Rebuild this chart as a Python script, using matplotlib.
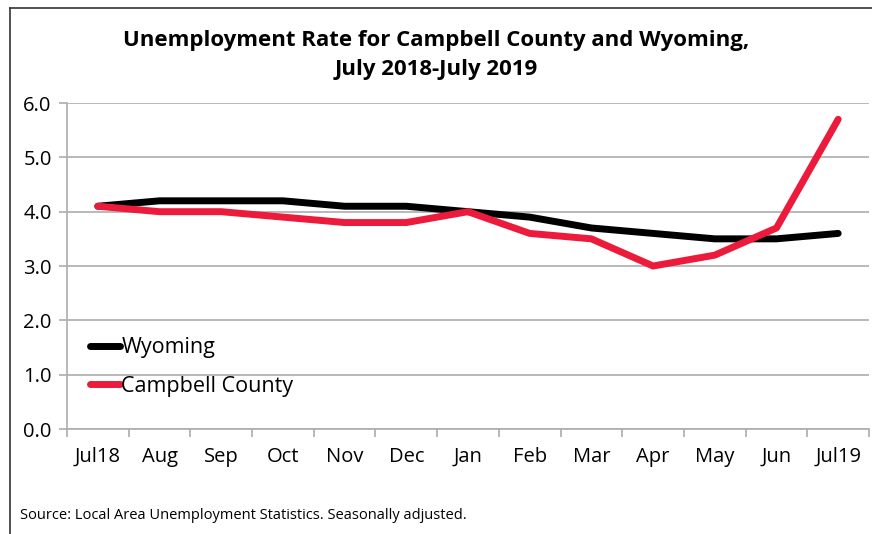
import matplotlib.pyplot as plt
from matplotlib.lines import Line2D

months = ['Jul18', 'Aug', 'Sep', 'Oct', 'Nov', 'Dec', 'Jan',
          'Feb', 'Mar', 'Apr', 'May', 'Jun', 'Jul19']
wyoming = [4.1, 4.2, 4.2, 4.2, 4.1, 4.1, 4.0, 3.9, 3.7, 3.6, 3.5, 3.5, 3.6]
campbell = [4.1, 4.0, 4.0, 3.9, 3.8, 3.8, 4.0, 3.6, 3.5, 3.0, 3.2, 3.7, 5.7]
yticks = [0.0, 1.0, 2.0, 3.0, 4.0, 5.0, 6.0]

plt.rcParams['font.family'] = ['Open Sans', 'DejaVu Sans']
grid_col = '#ADADAD'
red = '#EC1A3B'

fig = plt.figure(figsize=(8.72, 5.34), dpi=100)
ax = fig.add_axes([0.0768, 0.1966, 0.9198, 0.6105])

x = list(range(len(months)))
ax.plot(x, wyoming, color='black', lw=5, solid_capstyle='round', solid_joinstyle='round', zorder=3)
ax.plot(x, campbell, color=red, lw=5, solid_capstyle='round', solid_joinstyle='round', zorder=4)

ax.set_xlim(-0.5, len(months) - 0.5)
ax.set_ylim(0, 6)
ax.set_yticks(yticks)
ax.set_yticklabels([f'{v:.1f}' for v in yticks])
ax.set_xticks(x)
ax.set_xticklabels(months)
ax.set_xticks([i - 0.5 for i in range(len(months) + 1)], minor=True)
ax.tick_params(axis='x', which='major', length=0, pad=13, labelsize=14.5)
ax.tick_params(axis='x', which='minor', length=6, width=1.2, color=grid_col)
ax.tick_params(axis='y', length=6, width=1.2, color=grid_col, pad=5, labelsize=14.5)

ax.grid(axis='y', color=grid_col, lw=1.2)
ax.set_axisbelow(True)
for s in ['top', 'right']:
    ax.spines[s].set_visible(False)
for s in ['left', 'bottom']:
    ax.spines[s].set_color(grid_col)
    ax.spines[s].set_linewidth(1.2)

handles = [Line2D([], [], color='black', lw=5, solid_capstyle='round'),
           Line2D([], [], color=red, lw=5, solid_capstyle='round')]
ax.legend(handles, ['Wyoming', 'Campbell County'], loc='center left',
          bbox_to_anchor=(0.029, 0.19), frameon=False, fontsize=15.5,
          borderpad=0, borderaxespad=0,
          handlelength=1.4, handletextpad=0.05, labelspacing=0.8)

fig.text(0.5, 0.897, 'Unemployment Rate for Campbell County and Wyoming,\nJuly 2018-July 2019',
         ha='center', va='center', fontsize=16, fontweight='bold', linespacing=1.45)
fig.text(0.023, 0.035, 'Source: Local Area Unemployment Statistics. Seasonally adjusted.',
         fontsize=10.5, ha='left', va='center')

# outer frame (left and top edges visible)
fig.add_artist(Line2D([0.0115, 0.0115], [0, 0.985], color='#333333', lw=1.2))
fig.add_artist(Line2D([0.0115, 1.0], [0.985, 0.985], color='#333333', lw=1.2))

fig.savefig('out.png', dpi=100)
